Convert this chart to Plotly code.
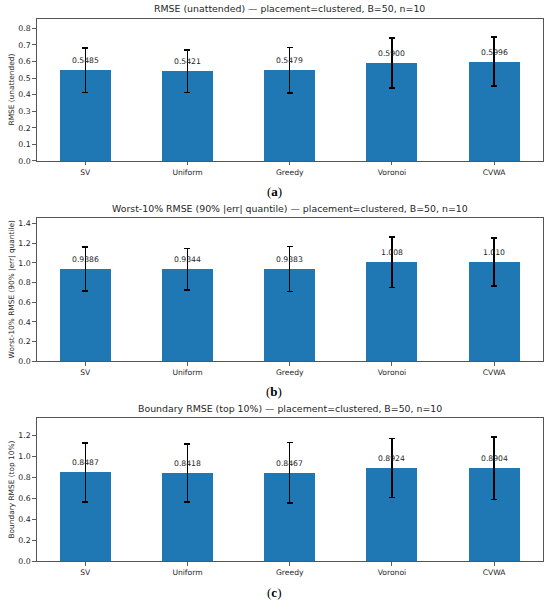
import plotly.graph_objects as go

methods = ["SV", "Uniform", "Greedy", "Voronoi", "CVWA"]

rmse_mean = [0.5485, 0.5421, 0.5479, 0.5900, 0.5996]
rmse_sd = [0.134, 0.128, 0.138, 0.151, 0.147]

worst_mean = [0.9386, 0.9344, 0.9383, 1.008, 1.010]
worst_sd = [0.222, 0.212, 0.228, 0.256, 0.243]

bound_mean = [0.8487, 0.8418, 0.8467, 0.8924, 0.8904]
bound_sd = [0.280, 0.277, 0.289, 0.283, 0.298]

titles = [
    "RMSE (unattended) — placement=clustered, B=50, n=10",
    "Worst-10% RMSE (90% |err| quantile) — placement=clustered, B=50, n=10",
    "Boundary RMSE (top 10%) — placement=clustered, B=50, n=10",
]
ylabels = [
    "RMSE (unattended)",
    "Worst-10% RMSE (90% |err| quantile)",
    "Boundary RMSE (top 10%)",
]
captions = ["a", "b", "c"]
dticks = [0.1, 0.2, 0.2]

W, H = 550, 609
# panel frames in page pixels (top, bottom)
frames = [(18.8, 162.3), (220.3, 364.0), (421.7, 566.0)]
x0px, x1px = 36.7, 542.7

series = [(rmse_mean, rmse_sd), (worst_mean, worst_sd), (bound_mean, bound_sd)]

BLUE = "#1f77b4"
TXT = "#262626"
FONT = "DejaVu Sans"

fig = go.Figure()
annotations = []
layout_axes = {}

for k, (means, sds) in enumerate(series):
    idx = "" if k == 0 else str(k + 1)
    xa = "x" + idx
    ya = "y" + idx
    fig.add_trace(go.Bar(
        x=list(range(len(methods))), y=means,
        width=0.5,
        marker=dict(color=BLUE, line=dict(width=0)),
        error_y=dict(type="data", array=sds, visible=True, color="black",
                     thickness=1.5, width=3),
        xaxis=xa, yaxis=ya, showlegend=False, hoverinfo="skip",
    ))
    top, bot = frames[k]
    ytop = max(m + s for m, s in zip(means, sds)) * 1.15
    layout_axes["xaxis" + idx] = dict(
        domain=[x0px / W, x1px / W],
        anchor=ya,
        range=[-0.475, len(methods) - 1 + 0.475],
        tickmode="array", tickvals=list(range(len(methods))), ticktext=methods,
        ticks="outside", ticklen=3.5, tickwidth=0.8, tickcolor="#333",
        showline=True, linecolor="#555", linewidth=1, mirror=True,
        showgrid=False, zeroline=False,
        tickfont=dict(family=FONT, size=7.6, color=TXT),
        fixedrange=True,
    )
    layout_axes["yaxis" + idx] = dict(
        domain=[1 - bot / H, 1 - top / H],
        anchor=xa,
        range=[0, ytop],
        dtick=dticks[k], tick0=0, tickformat=".1f",
        ticks="outside", ticklen=3.5, tickwidth=0.8, tickcolor="#333",
        showline=True, linecolor="#555", linewidth=1, mirror=True,
        showgrid=False, zeroline=False,
        tickfont=dict(family=FONT, size=7.8, color=TXT),
        fixedrange=True,
    )
    # bar value labels
    for i, (m, s) in enumerate(zip(means, sds)):
        annotations.append(dict(
            x=i, y=m, xref=xa, yref=ya, text="{:#.4g}".format(m),
            showarrow=False, yanchor="bottom", yshift=3,
            font=dict(family=FONT, size=7.7, color=TXT),
        ))
    # title
    annotations.append(dict(
        x=(x0px + x1px) / 2 / W, y=1 - (top - 2.5) / H, xref="paper", yref="paper",
        text=titles[k], showarrow=False, yanchor="bottom", xanchor="center",
        font=dict(family=FONT, size=9.4, color=TXT),
    ))
    # y label
    annotations.append(dict(
        x=11.7 / W, y=1 - (top + bot) / 2 / H, xref="paper", yref="paper",
        text=ylabels[k], showarrow=False, textangle=-90,
        xanchor="center", yanchor="middle",
        font=dict(family=FONT, size=7.4, color=TXT),
    ))
    # caption
    annotations.append(dict(
        x=274 / W, y=1 - (bot + 31) / H, xref="paper", yref="paper",
        text="(<b>" + captions[k] + "</b>)", showarrow=False,
        xanchor="center", yanchor="middle",
        font=dict(family="Liberation Serif", size=13, color="#000"),
    ))

fig.update_layout(
    width=W, height=H,
    margin=dict(l=0, r=0, t=0, b=0),
    paper_bgcolor="white", plot_bgcolor="white",
    annotations=annotations,
    bargap=0,
    hovermode=False,
    **layout_axes,
)

fig.write_html("out.html", config={"displayModeBar": False, "staticPlot": True},
               post_script="document.body.style.margin='0px';")
